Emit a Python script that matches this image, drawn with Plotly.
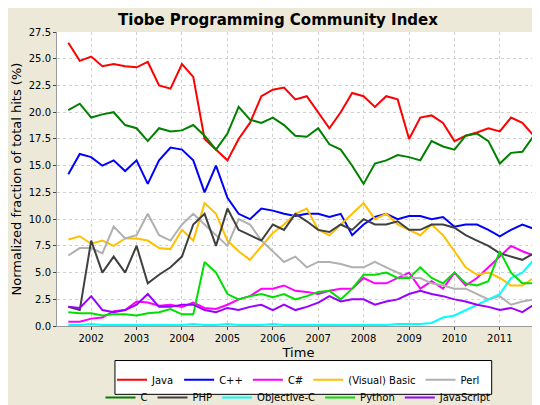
import plotly.graph_objects as go

# quarterly samples, Jul 2001 .. Oct 2011
months = []
for y in range(2001, 2012):
    for m in (1, 4, 7, 10):
        if (y, m) >= (2001, 7):
            months.append(f"{y}-{m:02d}-01")

java = [26.5, 24.8, 25.2, 24.3, 24.5, 24.3, 24.2, 24.7, 22.5, 22.2, 24.5, 23.3, 17.5, 16.5,
        15.5, 17.5, 19.0, 21.5, 22.1, 22.3, 21.2, 21.5, 20.0, 18.5, 20.0, 21.8, 21.5, 20.5,
        21.5, 21.2, 17.5, 19.5, 19.7, 19.0, 17.3, 17.8, 18.1, 18.5, 18.2, 19.5, 19.0, 17.8]
cpp = [14.2, 16.1, 15.8, 15.0, 15.5, 14.5, 15.5, 13.3, 15.5, 16.7, 16.5, 15.5, 12.5, 15.0,
       12.0, 10.5, 10.0, 11.0, 10.8, 10.5, 10.3, 10.5, 10.5, 10.2, 10.5, 8.5, 9.5, 10.2,
       10.5, 10.0, 10.3, 10.3, 10.0, 10.2, 9.3, 9.5, 9.5, 9.0, 8.4, 9.0, 9.5, 9.1]
csharp = [0.4, 0.4, 0.7, 0.8, 1.4, 1.5, 2.3, 2.2, 1.9, 2.0, 1.8, 2.2, 1.7, 1.6,
          2.0, 2.5, 2.8, 3.5, 3.5, 3.8, 3.3, 3.2, 3.0, 3.3, 3.5, 3.5, 4.5, 4.0,
          4.0, 4.5, 5.0, 3.5, 4.2, 3.5, 5.0, 3.8, 4.5, 5.5, 6.5, 7.5, 7.0, 6.6]
vbasic = [8.1, 8.4, 7.7, 8.0, 7.5, 8.2, 8.2, 8.0, 7.3, 7.2, 9.0, 8.0, 11.5, 10.5,
          8.0, 7.0, 6.2, 7.5, 8.7, 9.5, 10.5, 11.0, 9.0, 8.5, 9.5, 10.5, 11.5, 10.0,
          10.5, 9.5, 9.0, 8.5, 9.5, 8.5, 7.0, 5.5, 4.8, 5.0, 4.5, 3.8, 3.8, 4.5]
perl = [6.6, 7.3, 7.3, 6.8, 9.3, 8.2, 8.5, 10.5, 8.5, 8.0, 9.5, 10.5, 9.5, 8.5,
        7.5, 10.0, 9.5, 8.0, 7.0, 6.0, 6.5, 5.5, 6.0, 6.0, 5.8, 5.5, 5.5, 6.0,
        5.5, 5.0, 4.5, 4.5, 4.0, 3.8, 3.5, 3.5, 3.0, 2.5, 2.8, 2.0, 2.3, 2.5]
c = [20.2, 20.8, 19.5, 19.8, 20.0, 18.8, 18.5, 17.3, 18.5, 18.2, 18.3, 18.8, 17.8, 16.5,
     18.0, 20.5, 19.3, 19.0, 19.5, 18.8, 17.8, 17.7, 18.5, 17.0, 16.5, 15.0, 13.3, 15.2,
     15.5, 16.0, 15.8, 15.5, 17.3, 16.8, 16.5, 17.8, 18.0, 17.3, 15.2, 16.2, 16.3, 17.8]
php = [1.8, 1.5, 8.0, 5.0, 6.5, 5.0, 7.5, 4.0, 4.8, 5.5, 6.5, 9.5, 10.5, 7.5,
       11.0, 9.0, 8.5, 8.0, 9.5, 9.0, 10.5, 9.8, 9.0, 8.8, 9.5, 9.0, 10.0, 9.5,
       9.5, 9.8, 9.0, 9.0, 9.5, 9.5, 9.2, 8.5, 8.0, 7.5, 6.8, 6.5, 6.2, 6.8]
objc = [0.1, 0.1, 0.2, 0.1, 0.1, 0.1, 0.1, 0.1, 0.1, 0.1, 0.1, 0.2, 0.1, 0.1,
        0.2, 0.1, 0.1, 0.1, 0.2, 0.1, 0.1, 0.1, 0.1, 0.1, 0.1, 0.1, 0.1, 0.1,
        0.1, 0.2, 0.2, 0.2, 0.3, 0.8, 1.0, 1.5, 2.0, 2.5, 3.0, 4.5, 5.0, 6.2]
python = [1.3, 1.2, 1.2, 1.0, 1.1, 1.1, 1.0, 1.2, 1.3, 1.6, 1.1, 1.1, 6.0, 5.0,
          3.0, 2.5, 2.8, 3.0, 2.7, 3.0, 2.5, 2.8, 3.2, 3.3, 2.5, 3.5, 4.8, 4.8,
          5.0, 4.5, 4.5, 5.5, 4.5, 4.0, 5.0, 4.0, 3.8, 4.2, 7.0, 5.0, 4.0, 4.0]
javascript = [1.8, 1.7, 2.8, 1.5, 1.3, 1.5, 2.0, 3.0, 1.8, 1.8, 2.0, 2.0, 1.5, 1.3,
              1.7, 1.5, 1.8, 2.0, 1.5, 2.0, 1.5, 1.8, 2.2, 2.8, 2.3, 2.5, 2.5, 2.0,
              2.3, 2.5, 3.0, 3.3, 3.0, 2.8, 2.5, 2.3, 2.0, 1.8, 1.5, 1.7, 1.3, 2.0]

# (name, values, colour, legend row)
series = [
    ('Java', java, '#ff0000', 'legend'),
    ('C++', cpp, '#0000ff', 'legend'),
    ('C#', csharp, '#ff00ff', 'legend'),
    ('(Visual) Basic', vbasic, '#ffc000', 'legend'),
    ('Perl', perl, '#b0b0b0', 'legend'),
    ('C', c, '#008000', 'legend2'),
    ('PHP', php, '#404040', 'legend2'),
    ('Objective-C', objc, '#00ffff', 'legend2'),
    ('Python', python, '#00e000', 'legend2'),
    ('JavaScript', javascript, '#9900ff', 'legend2'),
]

fig = go.Figure()
for name, vals, col, lg in series:
    fig.add_trace(go.Scatter(x=months, y=vals, name=name, mode='lines',
                             line=dict(color=col, width=2), legend=lg))

legend_style = dict(orientation='h', x=0.5, xanchor='center', yref='container',
                    yanchor='top', bgcolor='rgba(0,0,0,0)', itemwidth=30,
                    font=dict(size=10, color='black'), traceorder='normal')

fig.update_layout(
    width=540, height=405,
    title=dict(text='<b>Tiobe Programming Community Index</b>', x=0.5, y=0.985,
               yanchor='top', font=dict(size=15, color='black', family='DejaVu Sans')),
    paper_bgcolor='#ece9d8', plot_bgcolor='white',
    margin=dict(l=49, r=8, t=24, b=74),
    font=dict(family='DejaVu Sans', size=11, color='black'),
    legend={**legend_style, 'y': 0.118},
    legend2={**legend_style, 'y': 0.074},
    shapes=[dict(type='rect', xref='paper', yref='paper', x0=0.12, x1=0.90,
                 y0=-0.232, y1=-0.117, fillcolor='white', line=dict(color='black', width=1),
                 layer='below')],
)
fig.update_xaxes(title=dict(text='Time', standoff=4), range=['2001-04-01', '2011-11-20'],
                 showgrid=True, gridcolor='#d0d0d0', griddash='dot', dtick='M12',
                 tickformat='%Y', ticks='outside', ticklen=3, zeroline=False,
                 showline=True, linecolor='#999', tickfont=dict(size=10))
fig.update_yaxes(title=dict(text='Normalized fraction of total hits (%)', standoff=4),
                 range=[0, 27.5], dtick=2.5, tickformat='.1f', showgrid=True,
                 gridcolor='#d0d0d0', griddash='dot', zeroline=False, ticks='outside',
                 ticklen=3, showline=True, linecolor='#999', tickfont=dict(size=10))

fig.write_html('out.html')
